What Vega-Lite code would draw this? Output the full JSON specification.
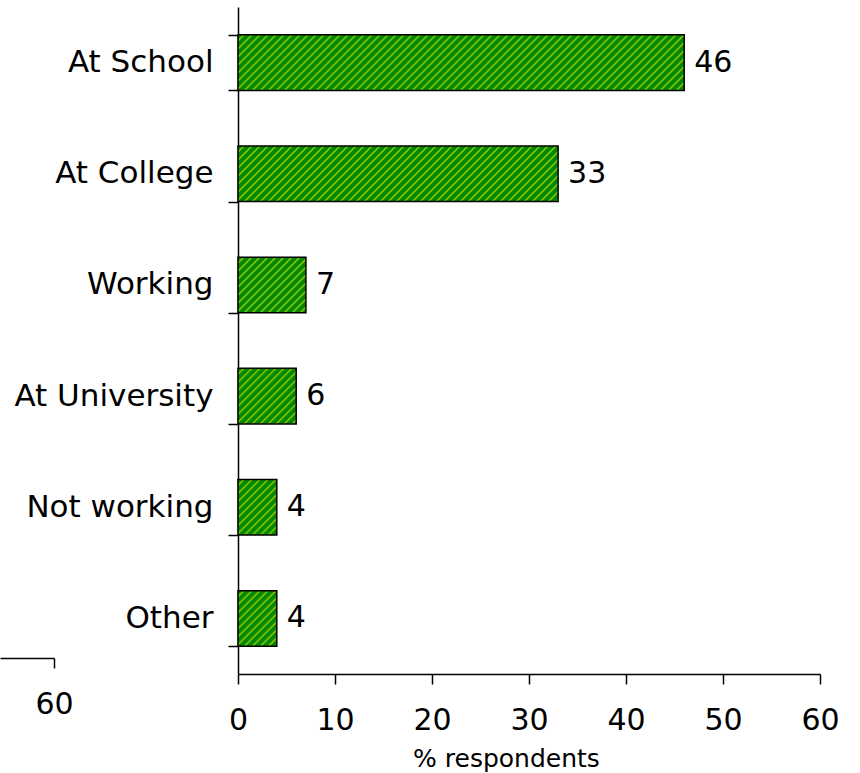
{
  "$schema": "https://vega.github.io/schema/vega-lite/v6.json",
  "autosize": "none",
  "padding": {"left": 238, "top": 7, "right": 40, "bottom": 99},
  "background": "white",
  "width": 582,
  "height": 667,
  "config": {
    "view": {"stroke": null},
    "axis": {
      "labelFont": "DejaVu Sans",
      "labelFontSize": 30,
      "labelColor": "black",
      "domainColor": "black",
      "tickColor": "black",
      "domainWidth": 1.5,
      "tickWidth": 1.5,
      "tickSize": 10,
      "grid": false,
      "labelFlush": false,
      "labelLimit": 400,
      "titleFont": "DejaVu Sans",
      "titleColor": "black"
    }
  },
  "resolve": {"scale": {"x": "independent"}, "axis": {"x": "independent"}},
  "layer": [
    {
      "data": {
        "values": [
          {"status": "At School", "pct": 46},
          {"status": "At College", "pct": 33},
          {"status": "Working", "pct": 7},
          {"status": "At University", "pct": 6},
          {"status": "Not working", "pct": 4},
          {"status": "Other", "pct": 4}
        ]
      },
      "encoding": {
        "y": {
          "field": "status",
          "type": "nominal",
          "sort": null,
          "scale": {"paddingInner": 0.5, "paddingOuter": 0.25},
          "axis": {"title": null, "tickBand": "extent", "labelPadding": 15, "labelFontSize": 31}
        },
        "x": {
          "field": "pct",
          "type": "quantitative",
          "scale": {"domain": [0, 60], "nice": false},
          "axis": {
            "orient": "bottom",
            "values": [0, 10, 20, 30, 40, 50, 60],
            "title": "% respondents",
            "titleFontSize": 25,
            "titleFontWeight": "normal",
            "labelPadding": 21,
            "titleX": 268,
            "titleY": 92,
            "titleBaseline": "alphabetic"
          }
        }
      },
      "layer": [
        {
          "mark": {"type": "bar", "stroke": "black", "strokeWidth": 1.5},
          "encoding": {
            "fill": {
              "condition": [
                {
                  "test": "datum.pct === 46",
                  "value": {
                    "gradient": "linear", "x1": 0, "y1": 0, "x2": 1.7655, "y2": 0.2199,
                    "stops": [
                      {"offset": 0, "color": "#080"}, {"offset": 0.005, "color": "#080"}, {"offset": 0.0075, "color": "#9c0"},
                      {"offset": 0.01, "color": "#080"}, {"offset": 0.015, "color": "#080"}, {"offset": 0.0175, "color": "#9c0"},
                      {"offset": 0.02, "color": "#080"}, {"offset": 0.025, "color": "#080"}, {"offset": 0.0275, "color": "#9c0"},
                      {"offset": 0.03, "color": "#080"}, {"offset": 0.035, "color": "#080"}, {"offset": 0.0375, "color": "#9c0"},
                      {"offset": 0.04, "color": "#080"}, {"offset": 0.045, "color": "#080"}, {"offset": 0.0475, "color": "#9c0"},
                      {"offset": 0.05, "color": "#080"}, {"offset": 0.055, "color": "#080"}, {"offset": 0.0575, "color": "#9c0"},
                      {"offset": 0.06, "color": "#080"}, {"offset": 0.065, "color": "#080"}, {"offset": 0.0675, "color": "#9c0"},
                      {"offset": 0.07, "color": "#080"}, {"offset": 0.075, "color": "#080"}, {"offset": 0.0775, "color": "#9c0"},
                      {"offset": 0.08, "color": "#080"}, {"offset": 0.085, "color": "#080"}, {"offset": 0.0875, "color": "#9c0"},
                      {"offset": 0.09, "color": "#080"}, {"offset": 0.095, "color": "#080"}, {"offset": 0.0975, "color": "#9c0"},
                      {"offset": 0.1, "color": "#080"}, {"offset": 0.105, "color": "#080"}, {"offset": 0.1075, "color": "#9c0"},
                      {"offset": 0.11, "color": "#080"}, {"offset": 0.115, "color": "#080"}, {"offset": 0.1175, "color": "#9c0"},
                      {"offset": 0.12, "color": "#080"}, {"offset": 0.125, "color": "#080"}, {"offset": 0.1275, "color": "#9c0"},
                      {"offset": 0.13, "color": "#080"}, {"offset": 0.135, "color": "#080"}, {"offset": 0.1375, "color": "#9c0"},
                      {"offset": 0.14, "color": "#080"}, {"offset": 0.145, "color": "#080"}, {"offset": 0.1475, "color": "#9c0"},
                      {"offset": 0.15, "color": "#080"}, {"offset": 0.155, "color": "#080"}, {"offset": 0.1575, "color": "#9c0"},
                      {"offset": 0.16, "color": "#080"}, {"offset": 0.165, "color": "#080"}, {"offset": 0.1675, "color": "#9c0"},
                      {"offset": 0.17, "color": "#080"}, {"offset": 0.175, "color": "#080"}, {"offset": 0.1775, "color": "#9c0"},
                      {"offset": 0.18, "color": "#080"}, {"offset": 0.185, "color": "#080"}, {"offset": 0.1875, "color": "#9c0"},
                      {"offset": 0.19, "color": "#080"}, {"offset": 0.195, "color": "#080"}, {"offset": 0.1975, "color": "#9c0"},
                      {"offset": 0.2, "color": "#080"}, {"offset": 0.205, "color": "#080"}, {"offset": 0.2075, "color": "#9c0"},
                      {"offset": 0.21, "color": "#080"}, {"offset": 0.215, "color": "#080"}, {"offset": 0.2175, "color": "#9c0"},
                      {"offset": 0.22, "color": "#080"}, {"offset": 0.225, "color": "#080"}, {"offset": 0.2275, "color": "#9c0"},
                      {"offset": 0.23, "color": "#080"}, {"offset": 0.235, "color": "#080"}, {"offset": 0.2375, "color": "#9c0"},
                      {"offset": 0.24, "color": "#080"}, {"offset": 0.245, "color": "#080"}, {"offset": 0.2475, "color": "#9c0"},
                      {"offset": 0.25, "color": "#080"}, {"offset": 0.255, "color": "#080"}, {"offset": 0.2575, "color": "#9c0"},
                      {"offset": 0.26, "color": "#080"}, {"offset": 0.265, "color": "#080"}, {"offset": 0.2675, "color": "#9c0"},
                      {"offset": 0.27, "color": "#080"}, {"offset": 0.275, "color": "#080"}, {"offset": 0.2775, "color": "#9c0"},
                      {"offset": 0.28, "color": "#080"}, {"offset": 0.285, "color": "#080"}, {"offset": 0.2875, "color": "#9c0"},
                      {"offset": 0.29, "color": "#080"}, {"offset": 0.295, "color": "#080"}, {"offset": 0.2975, "color": "#9c0"},
                      {"offset": 0.3, "color": "#080"}, {"offset": 0.305, "color": "#080"}, {"offset": 0.3075, "color": "#9c0"},
                      {"offset": 0.31, "color": "#080"}, {"offset": 0.315, "color": "#080"}, {"offset": 0.3175, "color": "#9c0"},
                      {"offset": 0.32, "color": "#080"}, {"offset": 0.325, "color": "#080"}, {"offset": 0.3275, "color": "#9c0"},
                      {"offset": 0.33, "color": "#080"}, {"offset": 0.335, "color": "#080"}, {"offset": 0.3375, "color": "#9c0"},
                      {"offset": 0.34, "color": "#080"}, {"offset": 0.345, "color": "#080"}, {"offset": 0.3475, "color": "#9c0"},
                      {"offset": 0.35, "color": "#080"}, {"offset": 0.355, "color": "#080"}, {"offset": 0.3575, "color": "#9c0"},
                      {"offset": 0.36, "color": "#080"}, {"offset": 0.365, "color": "#080"}, {"offset": 0.3675, "color": "#9c0"},
                      {"offset": 0.37, "color": "#080"}, {"offset": 0.375, "color": "#080"}, {"offset": 0.3775, "color": "#9c0"},
                      {"offset": 0.38, "color": "#080"}, {"offset": 0.385, "color": "#080"}, {"offset": 0.3875, "color": "#9c0"},
                      {"offset": 0.39, "color": "#080"}, {"offset": 0.395, "color": "#080"}, {"offset": 0.3975, "color": "#9c0"},
                      {"offset": 0.4, "color": "#080"}, {"offset": 0.405, "color": "#080"}, {"offset": 0.4075, "color": "#9c0"},
                      {"offset": 0.41, "color": "#080"}, {"offset": 0.415, "color": "#080"}, {"offset": 0.4175, "color": "#9c0"},
                      {"offset": 0.42, "color": "#080"}, {"offset": 0.425, "color": "#080"}, {"offset": 0.4275, "color": "#9c0"},
                      {"offset": 0.43, "color": "#080"}, {"offset": 0.435, "color": "#080"}, {"offset": 0.4375, "color": "#9c0"},
                      {"offset": 0.44, "color": "#080"}, {"offset": 0.445, "color": "#080"}, {"offset": 0.4475, "color": "#9c0"},
                      {"offset": 0.45, "color": "#080"}, {"offset": 0.455, "color": "#080"}, {"offset": 0.4575, "color": "#9c0"},
                      {"offset": 0.46, "color": "#080"}, {"offset": 0.465, "color": "#080"}, {"offset": 0.4675, "color": "#9c0"},
                      {"offset": 0.47, "color": "#080"}, {"offset": 0.475, "color": "#080"}, {"offset": 0.4775, "color": "#9c0"},
                      {"offset": 0.48, "color": "#080"}, {"offset": 0.485, "color": "#080"}, {"offset": 0.4875, "color": "#9c0"},
                      {"offset": 0.49, "color": "#080"}, {"offset": 0.495, "color": "#080"}, {"offset": 0.4975, "color": "#9c0"},
                      {"offset": 0.5, "color": "#080"}, {"offset": 0.505, "color": "#080"}, {"offset": 0.5075, "color": "#9c0"},
                      {"offset": 0.51, "color": "#080"}, {"offset": 0.515, "color": "#080"}, {"offset": 0.5175, "color": "#9c0"},
                      {"offset": 0.52, "color": "#080"}, {"offset": 0.525, "color": "#080"}, {"offset": 0.5275, "color": "#9c0"},
                      {"offset": 0.53, "color": "#080"}, {"offset": 0.535, "color": "#080"}, {"offset": 0.5375, "color": "#9c0"},
                      {"offset": 0.54, "color": "#080"}, {"offset": 0.545, "color": "#080"}, {"offset": 0.5475, "color": "#9c0"},
                      {"offset": 0.55, "color": "#080"}, {"offset": 0.555, "color": "#080"}, {"offset": 0.5575, "color": "#9c0"},
                      {"offset": 0.56, "color": "#080"}, {"offset": 0.565, "color": "#080"}, {"offset": 0.5675, "color": "#9c0"},
                      {"offset": 0.57, "color": "#080"}, {"offset": 0.575, "color": "#080"}, {"offset": 0.5775, "color": "#9c0"},
                      {"offset": 0.58, "color": "#080"}, {"offset": 0.585, "color": "#080"}, {"offset": 0.5875, "color": "#9c0"},
                      {"offset": 0.59, "color": "#080"}, {"offset": 0.595, "color": "#080"}, {"offset": 0.5975, "color": "#9c0"},
                      {"offset": 0.6, "color": "#080"}, {"offset": 0.605, "color": "#080"}, {"offset": 0.6075, "color": "#9c0"},
                      {"offset": 0.61, "color": "#080"}, {"offset": 0.615, "color": "#080"}, {"offset": 0.6175, "color": "#9c0"},
                      {"offset": 0.62, "color": "#080"}, {"offset": 0.625, "color": "#080"}, {"offset": 0.6275, "color": "#9c0"},
                      {"offset": 0.63, "color": "#080"}
                    ]
                  }
                },
                {
                  "test": "datum.pct === 33",
                  "value": {
                    "gradient": "linear", "x1": 0, "y1": 0, "x2": 2.4261, "y2": 0.4213,
                    "stops": [
                      {"offset": 0, "color": "#080"}, {"offset": 0.005, "color": "#080"}, {"offset": 0.0075, "color": "#9c0"},
                      {"offset": 0.01, "color": "#080"}, {"offset": 0.015, "color": "#080"}, {"offset": 0.0175, "color": "#9c0"},
                      {"offset": 0.02, "color": "#080"}, {"offset": 0.025, "color": "#080"}, {"offset": 0.0275, "color": "#9c0"},
                      {"offset": 0.03, "color": "#080"}, {"offset": 0.035, "color": "#080"}, {"offset": 0.0375, "color": "#9c0"},
                      {"offset": 0.04, "color": "#080"}, {"offset": 0.045, "color": "#080"}, {"offset": 0.0475, "color": "#9c0"},
                      {"offset": 0.05, "color": "#080"}, {"offset": 0.055, "color": "#080"}, {"offset": 0.0575, "color": "#9c0"},
                      {"offset": 0.06, "color": "#080"}, {"offset": 0.065, "color": "#080"}, {"offset": 0.0675, "color": "#9c0"},
                      {"offset": 0.07, "color": "#080"}, {"offset": 0.075, "color": "#080"}, {"offset": 0.0775, "color": "#9c0"},
                      {"offset": 0.08, "color": "#080"}, {"offset": 0.085, "color": "#080"}, {"offset": 0.0875, "color": "#9c0"},
                      {"offset": 0.09, "color": "#080"}, {"offset": 0.095, "color": "#080"}, {"offset": 0.0975, "color": "#9c0"},
                      {"offset": 0.1, "color": "#080"}, {"offset": 0.105, "color": "#080"}, {"offset": 0.1075, "color": "#9c0"},
                      {"offset": 0.11, "color": "#080"}, {"offset": 0.115, "color": "#080"}, {"offset": 0.1175, "color": "#9c0"},
                      {"offset": 0.12, "color": "#080"}, {"offset": 0.125, "color": "#080"}, {"offset": 0.1275, "color": "#9c0"},
                      {"offset": 0.13, "color": "#080"}, {"offset": 0.135, "color": "#080"}, {"offset": 0.1375, "color": "#9c0"},
                      {"offset": 0.14, "color": "#080"}, {"offset": 0.145, "color": "#080"}, {"offset": 0.1475, "color": "#9c0"},
                      {"offset": 0.15, "color": "#080"}, {"offset": 0.155, "color": "#080"}, {"offset": 0.1575, "color": "#9c0"},
                      {"offset": 0.16, "color": "#080"}, {"offset": 0.165, "color": "#080"}, {"offset": 0.1675, "color": "#9c0"},
                      {"offset": 0.17, "color": "#080"}, {"offset": 0.175, "color": "#080"}, {"offset": 0.1775, "color": "#9c0"},
                      {"offset": 0.18, "color": "#080"}, {"offset": 0.185, "color": "#080"}, {"offset": 0.1875, "color": "#9c0"},
                      {"offset": 0.19, "color": "#080"}, {"offset": 0.195, "color": "#080"}, {"offset": 0.1975, "color": "#9c0"},
                      {"offset": 0.2, "color": "#080"}, {"offset": 0.205, "color": "#080"}, {"offset": 0.2075, "color": "#9c0"},
                      {"offset": 0.21, "color": "#080"}, {"offset": 0.215, "color": "#080"}, {"offset": 0.2175, "color": "#9c0"},
                      {"offset": 0.22, "color": "#080"}, {"offset": 0.225, "color": "#080"}, {"offset": 0.2275, "color": "#9c0"},
                      {"offset": 0.23, "color": "#080"}, {"offset": 0.235, "color": "#080"}, {"offset": 0.2375, "color": "#9c0"},
                      {"offset": 0.24, "color": "#080"}, {"offset": 0.245, "color": "#080"}, {"offset": 0.2475, "color": "#9c0"},
                      {"offset": 0.25, "color": "#080"}, {"offset": 0.255, "color": "#080"}, {"offset": 0.2575, "color": "#9c0"},
                      {"offset": 0.26, "color": "#080"}, {"offset": 0.265, "color": "#080"}, {"offset": 0.2675, "color": "#9c0"},
                      {"offset": 0.27, "color": "#080"}, {"offset": 0.275, "color": "#080"}, {"offset": 0.2775, "color": "#9c0"},
                      {"offset": 0.28, "color": "#080"}, {"offset": 0.285, "color": "#080"}, {"offset": 0.2875, "color": "#9c0"},
                      {"offset": 0.29, "color": "#080"}, {"offset": 0.295, "color": "#080"}, {"offset": 0.2975, "color": "#9c0"},
                      {"offset": 0.3, "color": "#080"}, {"offset": 0.305, "color": "#080"}, {"offset": 0.3075, "color": "#9c0"},
                      {"offset": 0.31, "color": "#080"}, {"offset": 0.315, "color": "#080"}, {"offset": 0.3175, "color": "#9c0"},
                      {"offset": 0.32, "color": "#080"}, {"offset": 0.325, "color": "#080"}, {"offset": 0.3275, "color": "#9c0"},
                      {"offset": 0.33, "color": "#080"}, {"offset": 0.335, "color": "#080"}, {"offset": 0.3375, "color": "#9c0"},
                      {"offset": 0.34, "color": "#080"}, {"offset": 0.345, "color": "#080"}, {"offset": 0.3475, "color": "#9c0"},
                      {"offset": 0.35, "color": "#080"}, {"offset": 0.355, "color": "#080"}, {"offset": 0.3575, "color": "#9c0"},
                      {"offset": 0.36, "color": "#080"}, {"offset": 0.365, "color": "#080"}, {"offset": 0.3675, "color": "#9c0"},
                      {"offset": 0.37, "color": "#080"}, {"offset": 0.375, "color": "#080"}, {"offset": 0.3775, "color": "#9c0"},
                      {"offset": 0.38, "color": "#080"}, {"offset": 0.385, "color": "#080"}, {"offset": 0.3875, "color": "#9c0"},
                      {"offset": 0.39, "color": "#080"}, {"offset": 0.395, "color": "#080"}, {"offset": 0.3975, "color": "#9c0"},
                      {"offset": 0.4, "color": "#080"}, {"offset": 0.405, "color": "#080"}, {"offset": 0.4075, "color": "#9c0"},
                      {"offset": 0.41, "color": "#080"}, {"offset": 0.415, "color": "#080"}, {"offset": 0.4175, "color": "#9c0"},
                      {"offset": 0.42, "color": "#080"}, {"offset": 0.425, "color": "#080"}, {"offset": 0.4275, "color": "#9c0"},
                      {"offset": 0.43, "color": "#080"}, {"offset": 0.435, "color": "#080"}, {"offset": 0.4375, "color": "#9c0"},
                      {"offset": 0.44, "color": "#080"}, {"offset": 0.445, "color": "#080"}, {"offset": 0.4475, "color": "#9c0"},
                      {"offset": 0.45, "color": "#080"}, {"offset": 0.455, "color": "#080"}, {"offset": 0.4575, "color": "#9c0"},
                      {"offset": 0.46, "color": "#080"}, {"offset": 0.465, "color": "#080"}, {"offset": 0.4675, "color": "#9c0"},
                      {"offset": 0.47, "color": "#080"}
                    ]
                  }
                },
                {
                  "test": "datum.pct === 7",
                  "value": {
                    "gradient": "linear", "x1": 0, "y1": 0, "x2": 7.055, "y2": 5.775,
                    "stops": [
                      {"offset": 0, "color": "#080"}, {"offset": 0.005, "color": "#080"}, {"offset": 0.0075, "color": "#9c0"},
                      {"offset": 0.01, "color": "#080"}, {"offset": 0.015, "color": "#080"}, {"offset": 0.0175, "color": "#9c0"},
                      {"offset": 0.02, "color": "#080"}, {"offset": 0.025, "color": "#080"}, {"offset": 0.0275, "color": "#9c0"},
                      {"offset": 0.03, "color": "#080"}, {"offset": 0.035, "color": "#080"}, {"offset": 0.0375, "color": "#9c0"},
                      {"offset": 0.04, "color": "#080"}, {"offset": 0.045, "color": "#080"}, {"offset": 0.0475, "color": "#9c0"},
                      {"offset": 0.05, "color": "#080"}, {"offset": 0.055, "color": "#080"}, {"offset": 0.0575, "color": "#9c0"},
                      {"offset": 0.06, "color": "#080"}, {"offset": 0.065, "color": "#080"}, {"offset": 0.0675, "color": "#9c0"},
                      {"offset": 0.07, "color": "#080"}, {"offset": 0.075, "color": "#080"}, {"offset": 0.0775, "color": "#9c0"},
                      {"offset": 0.08, "color": "#080"}, {"offset": 0.085, "color": "#080"}, {"offset": 0.0875, "color": "#9c0"},
                      {"offset": 0.09, "color": "#080"}, {"offset": 0.095, "color": "#080"}, {"offset": 0.0975, "color": "#9c0"},
                      {"offset": 0.1, "color": "#080"}, {"offset": 0.105, "color": "#080"}, {"offset": 0.1075, "color": "#9c0"},
                      {"offset": 0.11, "color": "#080"}, {"offset": 0.115, "color": "#080"}, {"offset": 0.1175, "color": "#9c0"},
                      {"offset": 0.12, "color": "#080"}, {"offset": 0.125, "color": "#080"}, {"offset": 0.1275, "color": "#9c0"},
                      {"offset": 0.13, "color": "#080"}, {"offset": 0.135, "color": "#080"}, {"offset": 0.1375, "color": "#9c0"},
                      {"offset": 0.14, "color": "#080"}, {"offset": 0.145, "color": "#080"}, {"offset": 0.1475, "color": "#9c0"},
                      {"offset": 0.15, "color": "#080"}, {"offset": 0.155, "color": "#080"}, {"offset": 0.1575, "color": "#9c0"},
                      {"offset": 0.16, "color": "#080"}
                    ]
                  }
                },
                {
                  "test": "datum.pct === 6",
                  "value": {
                    "gradient": "linear", "x1": 0, "y1": 0, "x2": 7.189, "y2": 6.866,
                    "stops": [
                      {"offset": 0, "color": "#080"}, {"offset": 0.005, "color": "#080"}, {"offset": 0.0075, "color": "#9c0"},
                      {"offset": 0.01, "color": "#080"}, {"offset": 0.015, "color": "#080"}, {"offset": 0.0175, "color": "#9c0"},
                      {"offset": 0.02, "color": "#080"}, {"offset": 0.025, "color": "#080"}, {"offset": 0.0275, "color": "#9c0"},
                      {"offset": 0.03, "color": "#080"}, {"offset": 0.035, "color": "#080"}, {"offset": 0.0375, "color": "#9c0"},
                      {"offset": 0.04, "color": "#080"}, {"offset": 0.045, "color": "#080"}, {"offset": 0.0475, "color": "#9c0"},
                      {"offset": 0.05, "color": "#080"}, {"offset": 0.055, "color": "#080"}, {"offset": 0.0575, "color": "#9c0"},
                      {"offset": 0.06, "color": "#080"}, {"offset": 0.065, "color": "#080"}, {"offset": 0.0675, "color": "#9c0"},
                      {"offset": 0.07, "color": "#080"}, {"offset": 0.075, "color": "#080"}, {"offset": 0.0775, "color": "#9c0"},
                      {"offset": 0.08, "color": "#080"}, {"offset": 0.085, "color": "#080"}, {"offset": 0.0875, "color": "#9c0"},
                      {"offset": 0.09, "color": "#080"}, {"offset": 0.095, "color": "#080"}, {"offset": 0.0975, "color": "#9c0"},
                      {"offset": 0.1, "color": "#080"}, {"offset": 0.105, "color": "#080"}, {"offset": 0.1075, "color": "#9c0"},
                      {"offset": 0.11, "color": "#080"}, {"offset": 0.115, "color": "#080"}, {"offset": 0.1175, "color": "#9c0"},
                      {"offset": 0.12, "color": "#080"}, {"offset": 0.125, "color": "#080"}, {"offset": 0.1275, "color": "#9c0"},
                      {"offset": 0.13, "color": "#080"}, {"offset": 0.135, "color": "#080"}, {"offset": 0.1375, "color": "#9c0"},
                      {"offset": 0.14, "color": "#080"}, {"offset": 0.145, "color": "#080"}, {"offset": 0.1475, "color": "#9c0"},
                      {"offset": 0.15, "color": "#080"}
                    ]
                  }
                },
                {
                  "test": "datum.pct === 4",
                  "value": {
                    "gradient": "linear", "x1": 0, "y1": 0, "x2": 6.756, "y2": 9.678,
                    "stops": [
                      {"offset": 0, "color": "#080"}, {"offset": 0.005, "color": "#080"}, {"offset": 0.0075, "color": "#9c0"},
                      {"offset": 0.01, "color": "#080"}, {"offset": 0.015, "color": "#080"}, {"offset": 0.0175, "color": "#9c0"},
                      {"offset": 0.02, "color": "#080"}, {"offset": 0.025, "color": "#080"}, {"offset": 0.0275, "color": "#9c0"},
                      {"offset": 0.03, "color": "#080"}, {"offset": 0.035, "color": "#080"}, {"offset": 0.0375, "color": "#9c0"},
                      {"offset": 0.04, "color": "#080"}, {"offset": 0.045, "color": "#080"}, {"offset": 0.0475, "color": "#9c0"},
                      {"offset": 0.05, "color": "#080"}, {"offset": 0.055, "color": "#080"}, {"offset": 0.0575, "color": "#9c0"},
                      {"offset": 0.06, "color": "#080"}, {"offset": 0.065, "color": "#080"}, {"offset": 0.0675, "color": "#9c0"},
                      {"offset": 0.07, "color": "#080"}, {"offset": 0.075, "color": "#080"}, {"offset": 0.0775, "color": "#9c0"},
                      {"offset": 0.08, "color": "#080"}, {"offset": 0.085, "color": "#080"}, {"offset": 0.0875, "color": "#9c0"},
                      {"offset": 0.09, "color": "#080"}, {"offset": 0.095, "color": "#080"}, {"offset": 0.0975, "color": "#9c0"},
                      {"offset": 0.1, "color": "#080"}, {"offset": 0.105, "color": "#080"}, {"offset": 0.1075, "color": "#9c0"},
                      {"offset": 0.11, "color": "#080"}, {"offset": 0.115, "color": "#080"}, {"offset": 0.1175, "color": "#9c0"},
                      {"offset": 0.12, "color": "#080"}
                    ]
                  }
                }
              ],
              "value": "#2e9600"
            }
          }
        },
        {
          "mark": {"type": "text", "align": "left", "dx": 10, "fontSize": 30, "font": "DejaVu Sans", "color": "black"},
          "encoding": {"text": {"field": "pct", "type": "quantitative"}}
        }
      ]
    },
    {
      "data": {"values": [{"v": 60}]},
      "mark": {"type": "point", "opacity": 0},
      "encoding": {
        "x": {
          "field": "v",
          "type": "quantitative",
          "scale": {"domain": [54.4, 60], "range": [0, 54], "nice": false, "zero": false},
          "axis": {
            "orient": "bottom",
            "position": -238,
            "offset": -16,
            "values": [60],
            "title": null,
            "labelPadding": 21
          }
        }
      }
    }
  ]
}
